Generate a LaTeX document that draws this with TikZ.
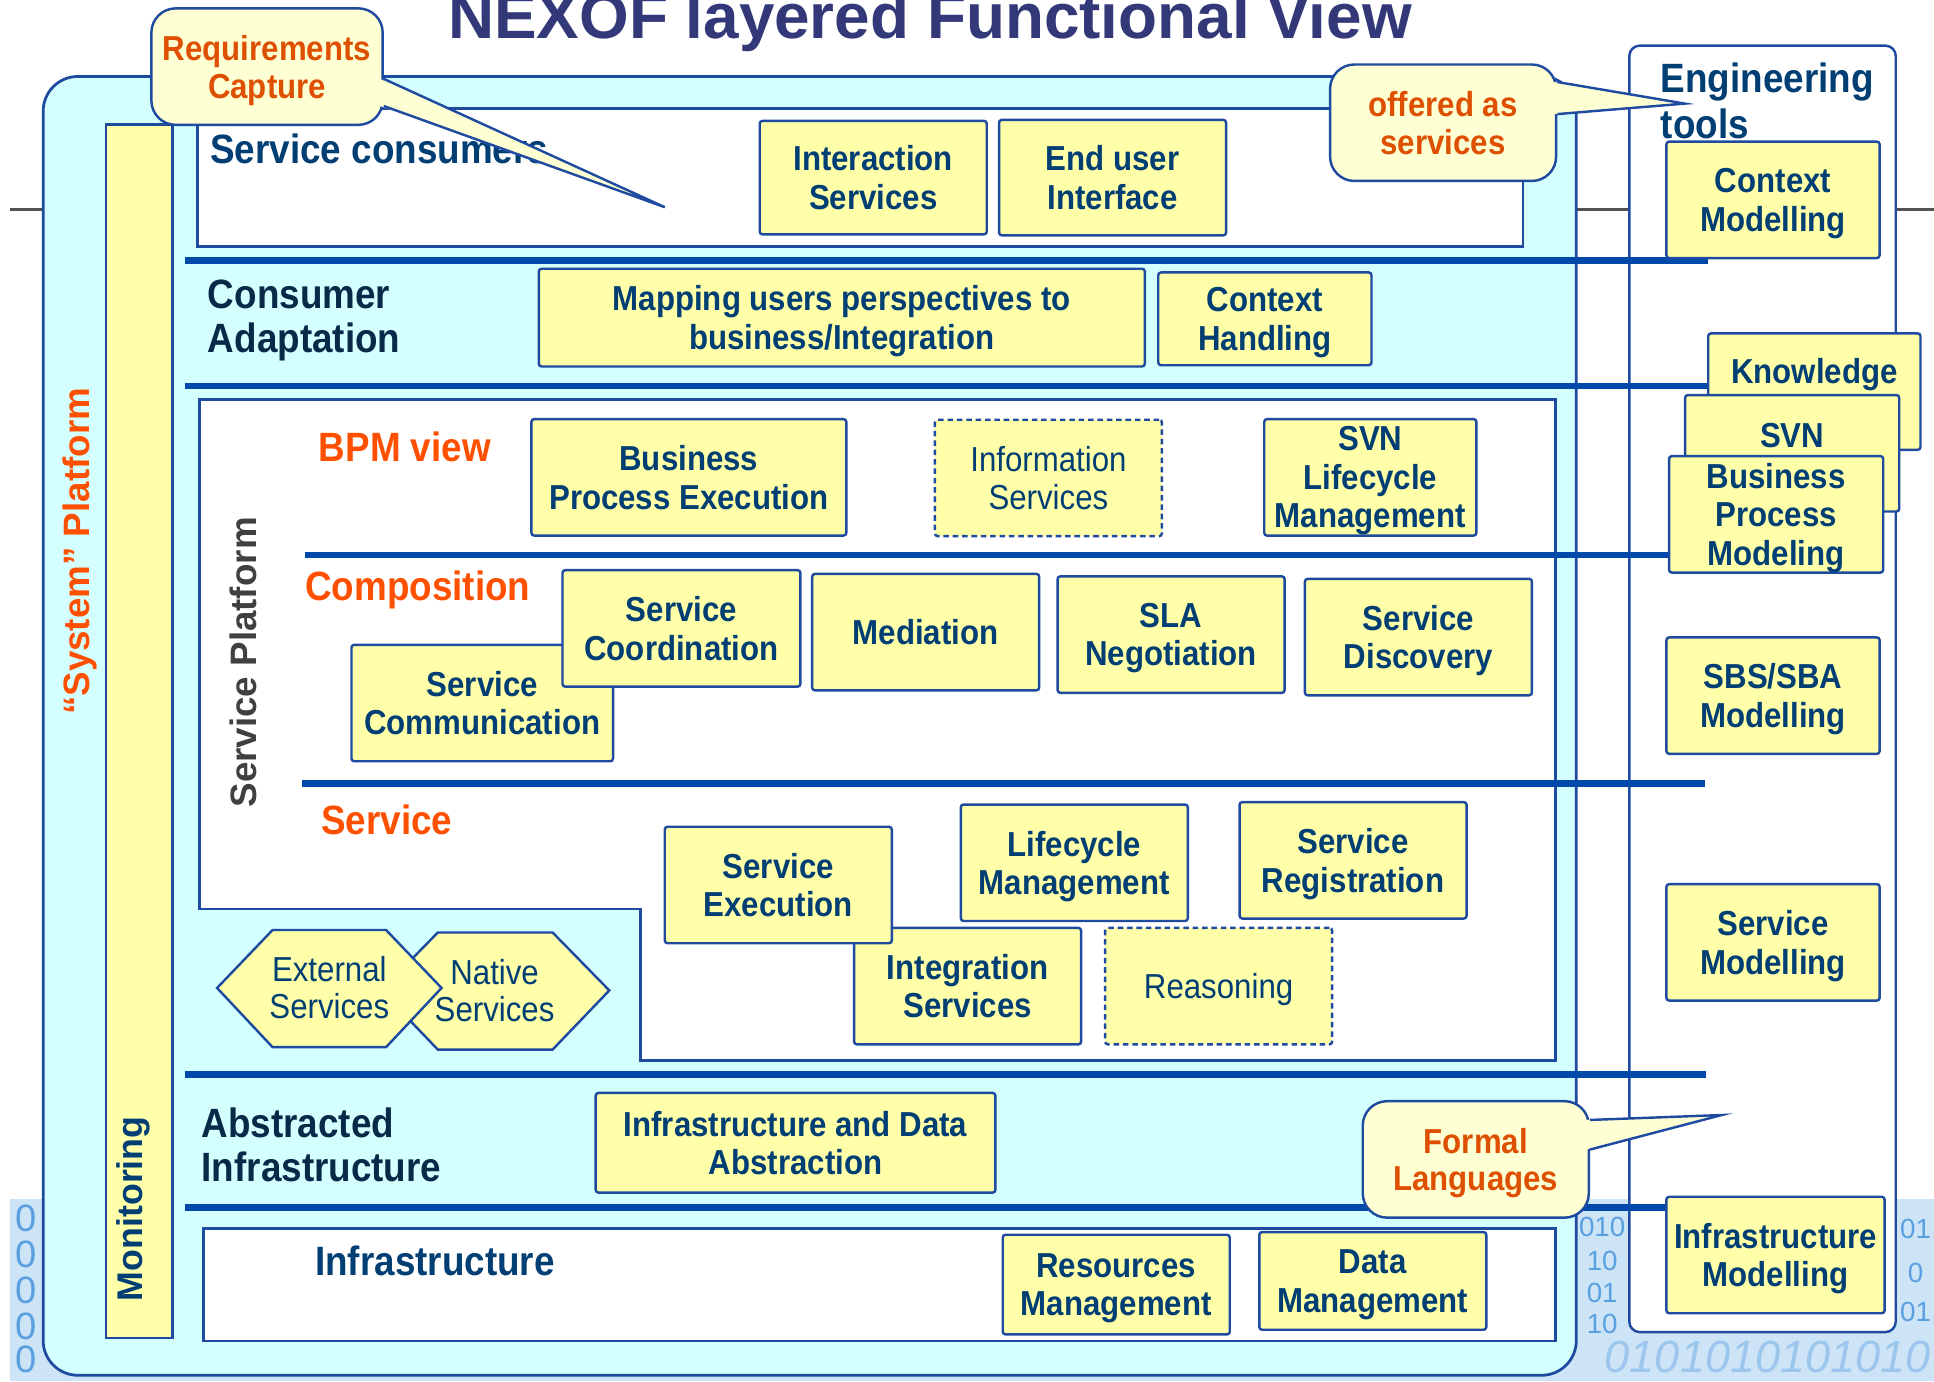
\documentclass[tikz,border=0pt]{standalone}
\usepackage{fontspec}
\setmainfont{Liberation Sans}[FakeStretch=0.9]
\newfontfamily\widefont{Liberation Sans}
\usetikzlibrary{positioning,calc}
\definecolor{edgeblue}{RGB}{30,75,160}
\definecolor{barblue}{RGB}{0,72,170}
\definecolor{cyanfill}{RGB}{212,255,255}
\definecolor{boxyellow}{RGB}{255,255,170}
\definecolor{callfill}{RGB}{255,255,212}
\definecolor{textnavy}{RGB}{0,62,115}
\definecolor{labelnavy}{RGB}{8,42,72}
\definecolor{layerorange}{RGB}{255,80,0}
\definecolor{callorange}{RGB}{222,80,0}
\definecolor{titlenavy}{RGB}{50,56,120}
\definecolor{platgray}{RGB}{64,64,64}
\definecolor{binfill}{RGB}{205,228,246}
\definecolor{bindigit}{RGB}{90,160,225}

\begin{document}
\begin{tikzpicture}[x=0.0125cm, y=-0.0125cm]
    \tikzstyle{comp} = [rectangle, draw=edgeblue, line width=0.7pt, fill=boxyellow, text=textnavy, font=\fontsize{10}{11.1}\selectfont\bfseries, align=center, minimum width=2.3cm, minimum height=1.18cm, inner sep=1pt, text depth=0pt, rounded corners=0.8pt]
    \tikzstyle{dcomp} = [comp, dash pattern=on 1.6pt off 1.1pt, font=\fontsize{10}{11.1}\selectfont]
    \tikzstyle{complbl} = [text=textnavy, font=\fontsize{10}{11}\selectfont\bfseries, inner sep=0pt]
    \tikzstyle{hexlbl} = [text=textnavy, font=\fontsize{10}{10.7}\selectfont, align=center, inner sep=0pt]
    \tikzstyle{layerlbl} = [anchor=west, align=left, inner sep=0pt, font=\fontsize{11.8}{12.8}\selectfont\bfseries]
    \tikzstyle{callout} = [rectangle, draw=edgeblue, line width=0.7pt, fill=callfill, text=callorange, font=\fontsize{10}{10.9}\selectfont\bfseries, align=center, rounded corners=7pt, minimum width=2.29cm, minimum height=1.18cm, text depth=0pt]
    \tikzstyle{layerline} = [barblue, line width=1.9pt]
    \tikzstyle{bindig} = [text=bindigit, inner sep=0pt, font=\widefont\fontsize{11}{11}\selectfont]

    \useasboundingbox (0,0) rectangle (1568,1120);

    % binary backdrop
    \fill[binfill] (8,972) rectangle (1568,1120);
    \foreach \y [count=\i] in {988,1017,1046,1075,1102}
        \node[bindig] (bl\i) at (21,\y) {0};
    \foreach \y/\t [count=\i] in {995/010,1022/10,1048/01,1073/10}
        \node[bindig, font=\widefont\fontsize{8}{8}\selectfont] (bm\i) at (1299,\y) {\t};
    \foreach \y/\t [count=\i] in {996/01,1032/0,1064/01}
        \node[bindig, font=\widefont\fontsize{8}{8}\selectfont] (br\i) at (1553,\y) {\t};
    \node[anchor=east, inner sep=0pt, text=bindigit!60, font=\widefont\itshape\fontsize{13}{13}\selectfont] (bbot) at (1566,1100) {0101010101010};
    \draw[black!68, line width=0.9pt] (8,170) -- (1568,170);

    % title
    \node[anchor=base, text=titlenavy, font=\widefont\fontsize{18.4}{20}\selectfont\bfseries] (title) at (754,31) {NEXOF layered Functional View};

    % "System" platform and layer frames
    \draw[edgeblue, line width=0.8pt, fill=cyanfill, rounded corners=10pt] (35,62) rectangle (1278,1115);
    \draw[edgeblue, line width=0.7pt, fill=white] (160,88) rectangle (1235,200);
    \draw[edgeblue, line width=0.8pt, fill=white] (162,324) -- (1261,324) -- (1261,860) -- (519,860) -- (519,737) -- (162,737) -- cycle;
    \draw[edgeblue, line width=0.7pt, fill=white] (165,996) rectangle (1261,1087);
    \draw[edgeblue, line width=0.7pt, fill=boxyellow] (86,101) rectangle (140,1085);
    \draw[edgeblue, line width=0.7pt, fill=white, rounded corners=3pt] (1321,37) rectangle (1537,1080);

    % layer lines
    \foreach \xa/\xb/\y in {150/1385/211, 150/1385/313, 247/1355/450, 245/1382/635, 150/1383/871, 150/1352/979}
        \draw[layerline] (\xa,\y) -- (\xb,\y);

    % side titles
    \node[rotate=90, text=layerorange, font=\widefont\fontsize{10.6}{12}\selectfont\bfseries] (sysplat) at (65,447) {“System” Platform};
    \node[rotate=90, text=textnavy, font=\widefont\fontsize{10.3}{12}\selectfont\bfseries] (monitor) at (108,980) {Monitoring};
    \node[rotate=90, text=platgray, font=\widefont\fontsize{10.6}{12}\selectfont\bfseries] (srvplat) at (197,537) {Service Platform};

    % Service consumers
    \node[layerlbl, text=textnavy] (consumers) at (170,121) {Service consumers};
    \node[comp, minimum height=1.15cm] (intsrv) at (708,144) {Interaction\\Services};
    \node[comp, right=0.1cm of intsrv, minimum height=1.17cm] (enduser) {End user\\Interface};

    % Consumer adaptation
    \node[layerlbl, text=labelnavy] (adapt) at (168,260) {Consumer\\Adaptation};
    \node[comp, minimum width=6.14cm, minimum height=0.99cm] (mapping) at (682.5,257.5) {Mapping users perspectives to\\business/Integration};
    \node[comp, minimum width=2.16cm, minimum height=0.94cm] (ctxhand) at (1025.5,258.5) {Context\\Handling};

    % BPM view
    \node[layerlbl, text=layerorange] (bpm) at (258,362) {BPM view};
    \node[comp, minimum width=3.19cm] (bpexec) at (558.5,387) {Business\\Process Execution};
    \node[dcomp] (infosrv) at (850,387.5) {Information\\Services};
    \node[comp, minimum width=2.15cm] (svnlife) at (1111,387) {SVN\\Lifecycle\\Management};

    % Composition
    \node[layerlbl, text=layerorange] (compos) at (247,478) {Composition};
    \node[comp, minimum width=2.65cm] (srvcomm) at (391,570) {Service\\Communication};
    \node[comp, minimum width=2.41cm] (srvcoord) at (552.5,509.5) {Service\\Coordination};
    \node[comp] (mediation) at (750.5,512.5) {Mediation};
    \node[comp] (sla) at (949.5,514.5) {SLA\\Negotiation};
    \node[comp] (discovery) at (1150,516.5) {Service\\Discovery};

    % Service
    \node[layerlbl, text=layerorange] (service) at (260,665) {Service};
    \node[comp] (integr) at (784.5,799.5) {Integration\\Services};
    \node[comp] (srvexec) at (631,717.5) {Service\\Execution};
    \node[comp] (lifecycle) at (871,699.5) {Lifecycle\\Management};
    \node[comp] (registr) at (1097,697.5) {Service\\Registration};
    \node[dcomp] (reason) at (988,799.5) {Reasoning};

    \draw[edgeblue, line width=0.7pt, fill=boxyellow] (309,803) -- (355,756) -- (448,756) -- (494,803) -- (448,851) -- (355,851) -- cycle;
    \node[hexlbl] (native) at (401,803) {Native\\Services};
    \draw[edgeblue, line width=0.7pt, fill=boxyellow] (176,801) -- (221,754) -- (313,754) -- (358,801) -- (313,849) -- (221,849) -- cycle;
    \node[hexlbl] (external) at (267,801) {External\\Services};

    % Abstracted infrastructure
    \node[layerlbl, text=labelnavy] (absinf) at (163,928) {Abstracted\\Infrastructure};
    \node[comp, minimum width=4.05cm, minimum height=1.01cm] (infabs) at (645,926.5) {Infrastructure and Data\\Abstraction};

    % Infrastructure
    \node[layerlbl, text=textnavy] (infra) at (255,1022) {Infrastructure};
    \node[comp, minimum height=1.01cm] (resmgmt) at (905,1041.5) {Resources\\Management};
    \node[comp, minimum height=0.99cm] (datamgmt) at (1113,1038.5) {Data\\Management};

    % Engineering tools
    \node[layerlbl, text=textnavy, font=\fontsize{11.8}{13.2}\selectfont\bfseries] (engtools) at (1346,82) {Engineering\\tools};
    \node[comp, minimum width=2.16cm] (ctxmod) at (1437.5,162) {Context\\Modelling};
    \node[comp, minimum width=2.15cm] (know) at (1471,317.5) {};
    \node[complbl] (knowlbl) at (1471,304) {Knowledge};
    \node[comp, minimum width=2.17cm] (svn) at (1453,367.5) {};
    \node[complbl] (svnlbl) at (1453,353) {SVN};
    \node[comp, minimum width=2.17cm] (bpmod) at (1440,417) {Business\\Process\\Modeling};
    \node[comp, minimum width=2.16cm] (sbsmod) at (1437.5,564) {SBS/SBA\\Modelling};
    \node[comp, minimum width=2.16cm] (srvmod) at (1437.5,764) {Service\\Modelling};
    \node[comp, minimum width=2.21cm] (infmod) at (1439.5,1017.5) {Infrastructure\\Modelling};

    % Callouts
    \node[callout] (reqcap) at (216.5,54) {Requirements\\Capture};
    \coordinate (reqtip) at (539,168);
    \fill[callfill] ($(reqcap.east)+(-3,10)$) -- (reqtip) -- ($(reqcap.east)+(-3,32)$) -- cycle;
    \draw[edgeblue, line width=0.7pt] ($(reqcap.east)+(0,10)$) -- (reqtip) -- ($(reqcap.east)+(0,32)$);

    \node[callout] (offered) at (1170,99.5) {offered as\\services};
    \coordinate (offtip) at (1366,84);
    \fill[callfill] ($(offered.east)+(-3,-33)$) -- (offtip) -- ($(offered.east)+(-3,-7)$) -- cycle;
    \draw[edgeblue, line width=0.7pt] ($(offered.east)+(0,-33)$) -- (offtip) -- ($(offered.east)+(0,-7)$);

    \node[callout] (formal) at (1196.5,940) {Formal\\Languages};
    \coordinate (formtip) at (1396,904);
    \fill[callfill] ($(formal.east)+(-3,-32)$) -- (formtip) -- ($(formal.east)+(-3,-8)$) -- cycle;
    \draw[edgeblue, line width=0.7pt] ($(formal.east)+(0,-32)$) -- (formtip) -- ($(formal.east)+(0,-8)$);
\end{tikzpicture}
\end{document}
